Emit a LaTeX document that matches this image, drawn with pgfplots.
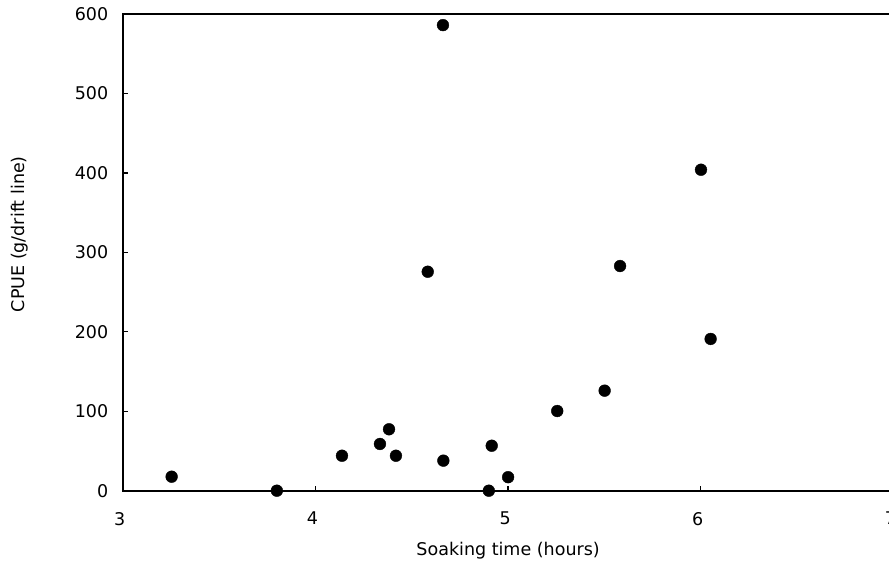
\documentclass[border=0pt]{standalone}
\usepackage{fontspec}
\setmainfont{DejaVu Sans}
\usepackage{pgfplots}
\pgfplotsset{compat=1.18}
\begin{document}
\begin{tikzpicture}
\begin{axis}[
  scale only axis,
  width=770.8pt, height=476.7pt,
  xmin=3, xmax=7, ymin=0, ymax=600,
  xtick={3,4,5,6,7}, ytick={0,100,...,600},
  tick align=inside,
  xtick pos=left, ytick pos=left,
  major tick length=5pt,
  axis line style={line width=1.8pt},
  every tick/.style={line width=1.3pt, black},
  /pgf/number format/assume math mode=true,
  tick label style={font=\fontsize{17.5}{20}\selectfont},
  xticklabel style={yshift=-18pt, xshift=-3pt},
  yticklabel style={xshift=-11pt},
  label style={font=\fontsize{17.5}{20}\selectfont},
  xlabel={Soaking time (hours)},
  ylabel={CPUE (g/drift line)},
  xlabel shift=10pt,
  ylabel shift=40pt,
  ylabel style={at={(ticklabel cs:0.538)}},
  clip=false,
]
\addplot[only marks, mark=*, mark size=5.9pt, black] coordinates {
  (3.254,17.6) (3.800,0) (4.138,44) (4.335,58.8) (4.382,77.3)
  (4.418,44) (4.664,37.8) (4.915,56.6) (4.900,0) (5.000,17)
  (5.255,100.3) (5.501,125.9) (5.581,282.8) (6.001,404)
  (6.051,191) (4.583,275.6) (4.662,586)
};
\end{axis}
\pgfresetboundingbox
\path[use as bounding box] ([shift={(-122.7pt,-76.3pt)}]current axis.south west) rectangle ([shift={(766.3pt,14pt)}]current axis.north west);
\end{tikzpicture}
\end{document}
